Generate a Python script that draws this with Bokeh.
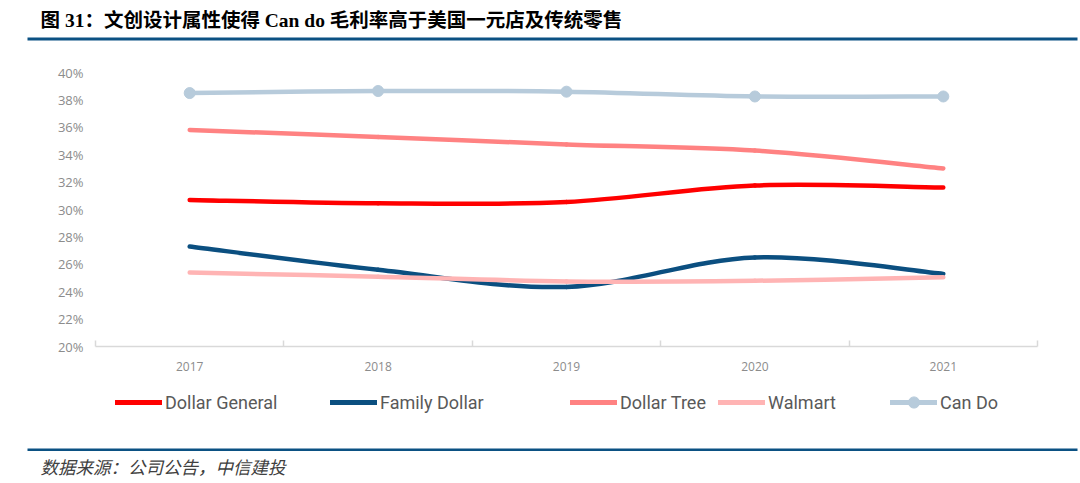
from bokeh.plotting import figure
from bokeh.layouts import column
from bokeh.models import (Range1d, FixedTicker, Label, BoxAnnotation, Legend,
                          LegendItem, ColumnDataSource, PrintfTickFormatter)
from bokeh.embed import file_html
from bokeh.resources import INLINE

# ---------------- data ----------------
years = ["2017", "2018", "2019", "2020", "2021"]
dollar_general = [30.7, 30.45, 30.55, 31.75, 31.6]
family_dollar = [27.3, 25.6, 24.35, 26.5, 25.3]
dollar_tree = [35.8, 35.3, 34.75, 34.3, 33.0]
walmart = [25.4, 25.1, 24.75, 24.8, 25.05]
can_do = [38.5, 38.65, 38.6, 38.25, 38.25]
y_ticks = [20, 22, 24, 26, 28, 30, 32, 34, 36, 38, 40]

series = [
    ("Dollar General", dollar_general, "#ff0000"),
    ("Family Dollar", family_dollar, "#0b4f80"),
    ("Dollar Tree", dollar_tree, "#ff8282"),
    ("Walmart", walmart, "#ffb4b4"),
    ("Can Do", can_do, "#b7cbdb"),
]

W = 1080
TOP_H, MAIN_H, BOT_H = 50, 335, 98
xs = list(range(1, len(years) + 1))
RULE = "#0b5183"


def blank_fig(h):
    f = figure(width=W, height=h, output_backend="svg", toolbar_location=None,
               x_axis_type=None, y_axis_type=None, min_border=0,
               x_range=Range1d(0, 1), y_range=Range1d(0, 1))
    f.outline_line_color = None
    f.grid.visible = False
    f.background_fill_color = "white"
    f.border_fill_color = "white"
    f.frame_align = False
    return f


# ---------------- top: title ----------------
top = blank_fig(TOP_H)
top.add_layout(Label(x=40, y=30.5, x_units="screen", y_units="screen",
                     text="图 31：文创设计属性使得 Can do 毛利率高于美国一元店及传统零售",
                     text_font="'Liberation Serif', 'Noto Sans CJK SC'",
                     text_font_style="bold", text_font_size="19.5px",
                     text_color="#000000", text_baseline="middle", text_align="left"))
top.add_layout(BoxAnnotation(left=27, right=1077, top=13, bottom=10,
                             left_units="screen", right_units="screen",
                             top_units="screen", bottom_units="screen",
                             fill_color=RULE, fill_alpha=1, line_color=None))

# ---------------- main chart ----------------
p = figure(width=W, height=MAIN_H, output_backend="svg", toolbar_location=None,
           x_range=Range1d(0.5, len(years) + 0.5), y_range=Range1d(20, 40),
           min_border_left=95, min_border_right=43, min_border_top=22,
           min_border_bottom=39)
p.outline_line_color = None
p.xgrid.visible = False
p.ygrid.visible = False
p.background_fill_color = "white"
p.border_fill_color = "white"
p.frame_align = False

xa = p.xaxis[0]
xa.ticker = FixedTicker(ticks=xs, minor_ticks=[x - 0.5 for x in xs] + [xs[-1] + 0.5])
xa.major_label_overrides = {x: y for x, y in zip(xs, years)}
xa.major_tick_line_color = None
xa.minor_tick_in = 6
xa.minor_tick_out = 0
xa.minor_tick_line_color = "#d9d9d9"
xa.minor_tick_line_width = 1.5
xa.axis_line_color = "#d9d9d9"
xa.axis_line_width = 1.5
xa.major_label_standoff = 9
xa.major_label_text_font = "Open Sans"
xa.major_label_text_font_size = "12px"
xa.major_label_text_color = "#8c8c8c"

ya = p.yaxis[0]
ya.ticker = FixedTicker(ticks=y_ticks)
ya.formatter = PrintfTickFormatter(format="%d%%")
ya.axis_line_color = None
ya.major_tick_line_color = None
ya.minor_tick_line_color = None
ya.major_label_standoff = 6
ya.major_label_text_font = "Open Sans"
ya.major_label_text_font_size = "13px"
ya.major_label_text_color = "#8c8c8c"


def bezier_source(vals):
    n = len(vals)
    d = dict(x0=[], y0=[], x1=[], y1=[], cx0=[], cy0=[], cx1=[], cy1=[])
    for i in range(n - 1):
        pm = i - 1 if i > 0 else i
        pp = i + 2 if i + 2 < n else i + 1
        d["x0"].append(xs[i]); d["y0"].append(vals[i])
        d["x1"].append(xs[i + 1]); d["y1"].append(vals[i + 1])
        d["cx0"].append(xs[i] + (xs[i + 1] - xs[pm]) / 6)
        d["cy0"].append(vals[i] + (vals[i + 1] - vals[pm]) / 6)
        d["cx1"].append(xs[i + 1] - (xs[pp] - xs[i]) / 6)
        d["cy1"].append(vals[i + 1] - (vals[pp] - vals[i]) / 6)
    return ColumnDataSource(d)


for name, vals, color in series:
    p.bezier(x0="x0", y0="y0", x1="x1", y1="y1", cx0="cx0", cy0="cy0",
             cx1="cx1", cy1="cy1", source=bezier_source(vals),
             line_color=color, line_width=4.5, line_cap="round")
    if name == "Can Do":
        p.scatter(x=xs, y=vals, size=11, marker="circle",
                  fill_color=color, line_color=color)

# ---------------- bottom: legend + source ----------------
# (legend proxy renderers reuse the series values; they fall outside this
#  panel's ranges, so only their legend swatches are visible)
bot = blank_fig(BOT_H)
legend_x = [115, 330, 570, 718, 890]
for (name, vals, color), lx in zip(series, legend_x):
    rs = [bot.line(x=xs, y=vals, line_color=color, line_width=5,
                   line_cap="round", visible=False)]
    if name == "Can Do":
        rs.append(bot.scatter(x=xs, y=vals, size=11, marker="circle",
                              fill_color=color, line_color=color))
    leg = Legend(items=[LegendItem(label=name, renderers=rs)],
                 location=(lx, 67), orientation="horizontal",
                 glyph_width=47, glyph_height=28, label_height=28,
                 label_standoff=3, padding=0, margin=0, spacing=0,
                 border_line_color=None, background_fill_alpha=0,
                 label_text_font="Roboto", label_text_font_size="18px",
                 label_text_color="#595959")
    bot.add_layout(leg)

bot.add_layout(BoxAnnotation(left=27, right=1077, top=35, bottom=32.5,
                             left_units="screen", right_units="screen",
                             top_units="screen", bottom_units="screen",
                             fill_color=RULE, fill_alpha=1, line_color=None))
bot.add_layout(Label(x=40, y=17, x_units="screen", y_units="screen",
                     text="数据来源：公司公告，中信建投",
                     text_font="'Noto Sans CJK SC'", text_font_style="italic",
                     text_font_size="17.5px", text_color="#404040",
                     text_baseline="middle", text_align="left"))

layout = column(top, p, bot, spacing=0)
open("out.html", "w").write(file_html(layout, INLINE))
